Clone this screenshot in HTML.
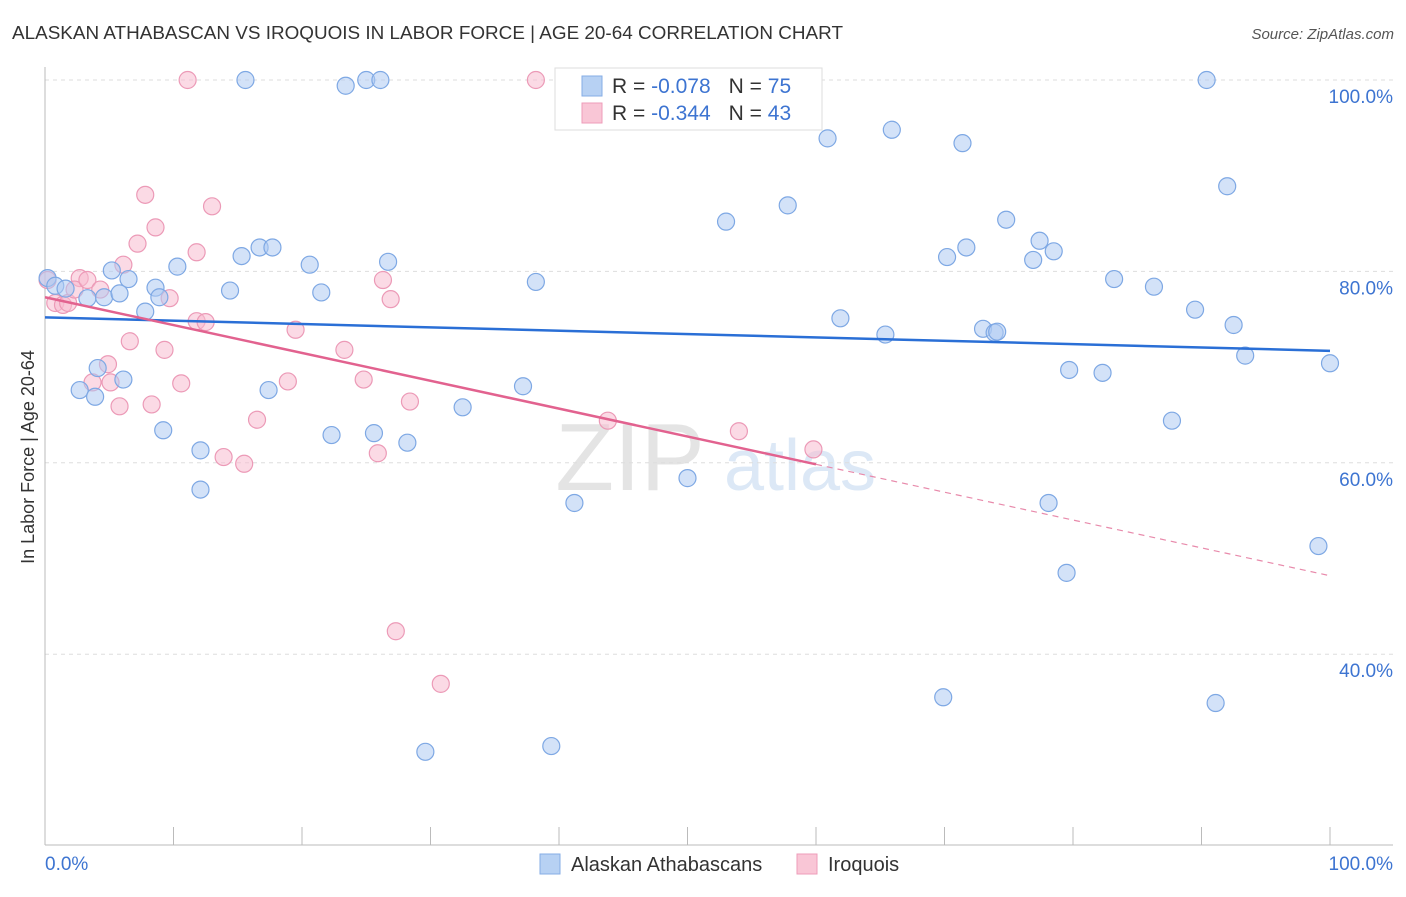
<!DOCTYPE html>
<html><head><meta charset="utf-8">
<style>
body{margin:0;background:#fff;font-family:"Liberation Sans",sans-serif;}
svg text{font-family:"Liberation Sans",sans-serif;}
</style></head>
<body>
<svg id="chart" width="1406" height="892" xmlns="http://www.w3.org/2000/svg">
<text x="12" y="39" font-size="18" fill="#333" textLength="831" lengthAdjust="spacingAndGlyphs">ALASKAN ATHABASCAN VS IROQUOIS IN LABOR FORCE | AGE 20-64 CORRELATION CHART</text>
<text x="1394" y="39" font-size="15" fill="#555" font-style="italic" text-anchor="end">Source: ZipAtlas.com</text>
<text x="630" y="490" font-size="96" fill="#e4e4e4" font-family="Liberation Serif" text-anchor="middle">ZIP</text>
<text x="800" y="490" font-size="72" fill="#dce8f6" text-anchor="middle">atlas</text>
<g id="grid"></g><g id="axes"></g><g id="marks"></g>
<text transform="translate(34,457) rotate(-90)" font-size="18" fill="#333" text-anchor="middle">In Labor Force | Age 20-64</text>
<text x="45" y="870" font-size="19" fill="#3d74d1">0.0%</text>
<text x="1393" y="870" font-size="19" fill="#3d74d1" text-anchor="end">100.0%</text>
<g>
<rect x="555" y="68" width="267" height="62" fill="#fff" stroke="#ddd"/>
<rect x="582" y="76" width="20" height="20" fill="#b7d1f3" stroke="#86ade6"/>
<rect x="582" y="103" width="20" height="20" fill="#f9c6d6" stroke="#ee9cb9"/>
<text x="612" y="93" font-size="21" fill="#333">R = <tspan fill="#3d74d1">-0.078</tspan><tspan dx="18">N = </tspan><tspan fill="#3d74d1">75</tspan></text>
<text x="612" y="120" font-size="21" fill="#333">R = <tspan fill="#3d74d1">-0.344</tspan><tspan dx="18">N = </tspan><tspan fill="#3d74d1">43</tspan></text>
</g>
<g>
<rect x="540" y="854" width="20" height="20" fill="#b7d1f3" stroke="#86ade6"/>
<text x="571" y="871" font-size="20" fill="#333">Alaskan Athabascans</text>
<rect x="797" y="854" width="20" height="20" fill="#f9c6d6" stroke="#ee9cb9"/>
<text x="828" y="871" font-size="20" fill="#333">Iroquois</text>
</g>
</svg>
<script>
const yTicks=[100,80,60,40];
const yTickLabels=["100.0%","80.0%","60.0%","40.0%"];
const xTicks=[0,10,20,30,40,50,60,70,80,90,100];
const blueX=[0.2,0.8,1.6,2.7,3.3,3.9,4.1,4.6,5.2,5.8,6.1,6.5,7.8,8.6,8.9,9.2,10.3,12.1,12.1,14.4,15.3,15.6,16.7,17.7,17.4,20.6,21.5,22.3,23.4,25.0,26.1,25.6,26.7,28.2,32.5,37.2,38.2,39.4,41.2,50.0,53.0,57.8,60.9,61.9,65.4,65.9,69.9,70.2,71.4,71.7,73.0,73.9,74.1,74.8,76.9,77.4,78.5,78.1,79.5,79.7,82.3,83.2,86.3,87.7,89.5,90.4,91.1,92.0,92.5,93.4,99.1,100,29.6];
const blueY=[79.3,78.5,78.2,67.6,77.2,66.9,69.9,77.3,80.1,77.7,68.7,79.2,75.8,78.3,77.3,63.4,80.5,61.3,57.2,78.0,81.6,100,82.5,82.5,67.6,80.7,77.8,62.9,99.4,100,100,63.1,81.0,62.1,65.8,68.0,78.9,30.4,55.8,58.4,85.2,86.9,93.9,75.1,73.4,94.8,35.5,81.5,93.4,82.5,74.0,73.6,73.7,85.4,81.2,83.2,82.1,55.8,48.5,69.7,69.4,79.2,78.4,64.4,76.0,100,34.9,88.9,74.4,71.2,51.3,70.4,29.8];
const pinkX=[0.2,0.8,1.4,1.8,2.7,2.3,3.3,3.7,4.3,4.9,5.1,5.8,6.1,6.6,7.2,7.8,8.3,8.6,9.3,9.7,10.6,11.1,11.8,11.8,12.5,13.0,13.9,15.5,16.5,18.9,19.5,23.3,24.8,25.9,26.3,26.9,27.3,28.4,30.8,38.2,43.8,54.0,59.8];
const pinkY=[79.1,76.7,76.5,76.7,79.3,78.1,79.1,68.4,78.1,70.3,68.4,65.9,80.7,72.7,82.9,88.0,66.1,84.6,71.8,77.2,68.3,100,82.0,74.8,74.7,86.8,60.6,59.9,64.5,68.5,73.9,71.8,68.7,61.0,79.1,77.1,42.4,66.4,36.9,100,64.4,63.3,61.4];
const blueTrend=[75.2,71.7];
const pinkTrend=[77.3,48.2];
const pinkSolidEnd=60;
const NS="http://www.w3.org/2000/svg";
const X=v=>45+v*12.85, Y=v=>80+(100-v)*9.57;
function mk(t,a,p){const e=document.createElementNS(NS,t);for(const k in a)e.setAttribute(k,a[k]);p.appendChild(e);return e;}
const grid=document.getElementById('grid'),axes=document.getElementById('axes'),marks=document.getElementById('marks');
yTicks.forEach((t,i)=>{
 const l=mk('line',{x1:45,x2:1393,y1:Y(t),y2:Y(t),stroke:'#ddd','stroke-dasharray':'4,4'},grid);
 
 
 const tx=mk('text',{x:1393,y:Y(t)+23,'font-size':19,fill:'#3d74d1','text-anchor':'end'},grid);
 tx.textContent=yTickLabels[i];
 
 
});
const ax=mk('line',{x1:45,x2:45,y1:67,y2:845,stroke:'#bbb'},axes);


const bx=mk('line',{x1:45,x2:1393,y1:845,y2:845,stroke:'#bbb'},axes);


xTicks.forEach(t=>{const l=mk('line',{x1:X(t),x2:X(t),y1:827,y2:845,stroke:'#bbb'},axes);
 
 });
function dots(xs,ys,fill,stroke,name){xs.forEach((x,i)=>{const c=mk('circle',{cx:X(x),cy:Y(ys[i]),r:8.5,fill:fill,'fill-opacity':0.55,stroke:stroke,'stroke-width':1.2},marks);
 
 });}
dots(pinkX,pinkY,'#f7bcd0','#ec9ab7','iroquois-point');
dots(blueX,blueY,'#aecbf2','#7ea8e4','athabascan-point');
const bl=mk('line',{x1:X(0),y1:Y(blueTrend[0]),x2:X(100),y2:Y(blueTrend[1]),stroke:'#2a6fd6','stroke-width':2.5},marks);


const pm=pinkTrend[0]+(pinkTrend[1]-pinkTrend[0])*pinkSolidEnd/100;
const pl=mk('line',{x1:X(0),y1:Y(pinkTrend[0]),x2:X(pinkSolidEnd),y2:Y(pm),stroke:'#e2628f','stroke-width':2.5},marks);


const pd=mk('line',{x1:X(pinkSolidEnd),y1:Y(pm),x2:X(100),y2:Y(pinkTrend[1]),stroke:'#e88aab','stroke-width':1.2,'stroke-dasharray':'6,5'},marks);


</script>
</body></html>
